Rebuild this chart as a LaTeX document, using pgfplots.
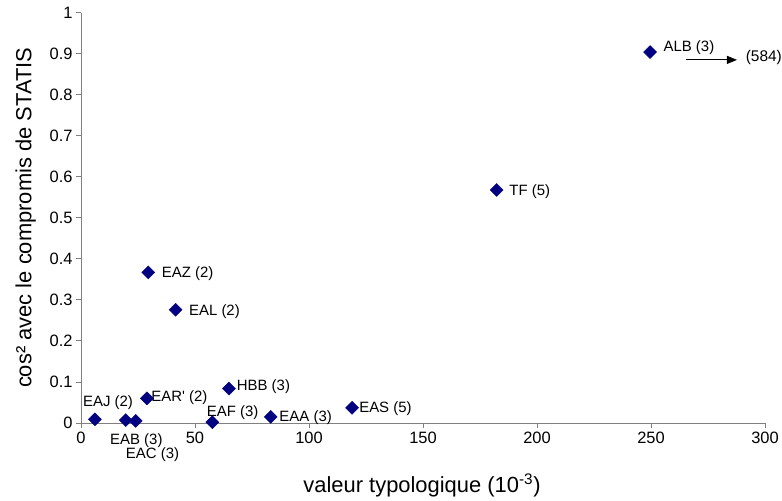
\documentclass[border=0pt]{standalone}
\usepackage{fontspec}
\setmainfont{Liberation Sans}[Ligatures=TeXOff]
\usepackage{pgfplots}
\pgfplotsset{compat=1.18}
\usetikzlibrary{arrows.meta}

\definecolor{navy}{HTML}{000080}
\definecolor{axgray}{HTML}{808080}

\newcommand{\lab}[4]{% x, y, shifts, text
  \node[anchor=base west, inner sep=0pt, font=\fontsize{15}{17}\selectfont, #3] at (axis cs:#1,#2) {#4};}

\begin{document}
\begin{tikzpicture}
\begin{axis}[
  scale only axis,
  width=684bp, height=410.3bp,
  xmin=0, xmax=300, ymin=0, ymax=1,
  axis x line*=bottom, axis y line*=left,
  axis line style={axgray, line width=0.9pt},
  tick style={axgray, line width=0.9pt},
  tick align=outside, major tick length=5bp,
  xtick={0,50,...,300},
  ytick={0,0.1,...,1.0},
  yticklabels={0,0.1,0.2,0.3,0.4,0.5,0.6,0.7,0.8,0.9,1},
  /pgf/number format/assume math mode=true,
  ticklabel style={font=\fontsize{16.5}{18}\selectfont},
  clip=false,
]
\addplot[only marks, mark=square*, mark size=4.6bp,
  mark options={rotate=45, fill=navy, draw=navy}] coordinates {
  (6.1,0.009) (19.6,0.007) (24.0,0.005) (28.9,0.060)
  (57.6,0.002) (64.9,0.084) (83.2,0.015) (118.9,0.037)
  (29.5,0.367) (41.5,0.276) (182.3,0.568) (249.6,0.904)
};

\lab{6.1}{0.009}{xshift=-12bp, yshift=13.3bp}{EAJ (2)}
\lab{19.6}{0.007}{xshift=-15.7bp, yshift=-24.4bp}{EAB (3)}
\lab{24.0}{0.005}{xshift=-10bp, yshift=-38bp}{EAC (3)}
\lab{28.9}{0.060}{xshift=4.4bp, yshift=-2.7bp}{EAR' (2)}
\lab{57.6}{0.002}{xshift=-5.6bp, yshift=5.3bp}{EAF (3)}
\lab{64.9}{0.084}{xshift=7.7bp, yshift=-1.7bp}{HBB (3)}
\lab{83.2}{0.015}{xshift=8.6bp, yshift=-5bp}{EAA (3)}
\lab{118.9}{0.037}{xshift=7bp, yshift=-4.3bp}{EAS (5)}
\lab{29.5}{0.367}{xshift=13.4bp, yshift=-5.3bp}{EAZ (2)}
\lab{41.5}{0.276}{xshift=13.3bp, yshift=-6bp}{EAL (2)}
\lab{182.3}{0.568}{xshift=12.6bp, yshift=-5.3bp}{TF (5)}
\lab{249.6}{0.904}{xshift=13.3bp, yshift=0.6bp}{ALB (3)}

% ALB lies far outside the range: its true value is pointed to
\draw[-{Triangle[length=10bp, width=8bp]}, line width=0.8pt]
  (axis cs:265.4,0.885) -- (axis cs:287.7,0.885);
\node[anchor=base west, inner sep=0pt, font=\fontsize{15.5}{17}\selectfont]
  at (axis cs:291.5,0.881) {(584)};

\node[anchor=base, inner sep=0pt, font=\fontsize{22}{24}\selectfont]
  at ([xshift=341bp, yshift=-69bp]rel axis cs:0,0) {valeur typologique (10\textsuperscript{-3})};
\node[anchor=base, rotate=90, inner sep=0pt, font=\fontsize{22}{24}\selectfont]
  at ([xshift=-49.5bp]rel axis cs:0,0.5) {cos² avec le compromis de STATIS};
\end{axis}
\pgfresetboundingbox
\path[use as bounding box] ([xshift=-81bp, yshift=-78bp]current axis.south west)
  rectangle ([xshift=17bp, yshift=12.7bp]current axis.north east);
\end{tikzpicture}
\end{document}
